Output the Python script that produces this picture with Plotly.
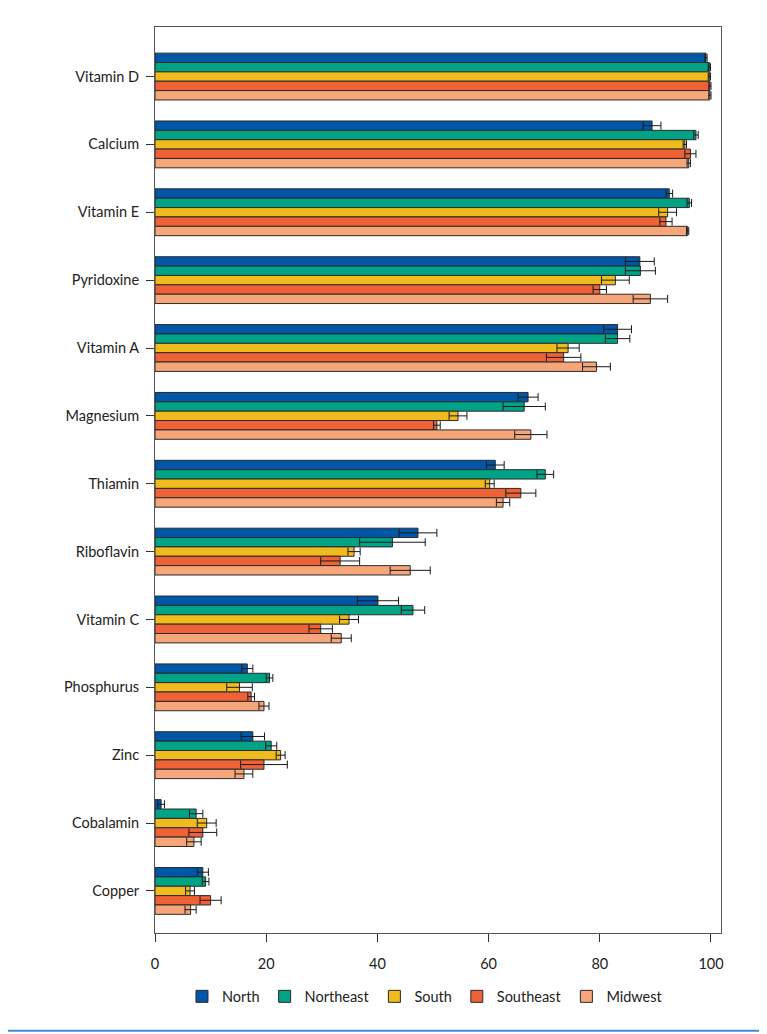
import plotly.graph_objects as go

categories = ["Vitamin D", "Calcium", "Vitamin E", "Pyridoxine", "Vitamin A",
              "Magnesium", "Thiamin", "Riboflavin", "Vitamin C", "Phosphurus",
              "Zinc", "Cobalamin", "Copper"]

north = [99.1, 89.4, 92.5, 87.2, 83.2, 67.1, 61.2, 47.3, 40.1, 16.6, 17.6, 1.1, 8.6]
north_err = [0.2, 1.6, 0.6, 2.6, 2.5, 1.8, 1.6, 3.4, 3.7, 1.0, 2.1, 0.6, 1.0]
northeast = [99.7, 97.3, 96.1, 87.3, 83.2, 66.4, 70.2, 42.7, 46.4, 20.6, 20.9, 7.4, 9.1]
northeast_err = [0.2, 0.4, 0.4, 2.7, 2.2, 3.8, 1.5, 5.9, 2.1, 0.6, 1.0, 1.2, 0.6]
south = [99.7, 95.3, 92.2, 82.8, 74.3, 54.5, 60.2, 35.8, 34.9, 15.2, 22.6, 9.3, 6.3]
south_err = [0.2, 0.3, 1.6, 2.5, 2.0, 1.6, 0.8, 1.1, 1.7, 2.3, 0.8, 1.7, 0.8]
southeast = [99.8, 96.3, 91.9, 80.0, 73.5, 50.7, 65.8, 33.3, 29.8, 17.3, 19.6, 8.6, 10.0]
southeast_err = [0.2, 1.0, 1.1, 1.2, 3.1, 0.6, 2.7, 3.5, 2.1, 0.6, 4.2, 2.5, 1.9]
midwest = [99.8, 96.0, 95.8, 89.1, 79.4, 67.6, 62.6, 45.9, 33.5, 19.6, 16.0, 7.0, 6.4]
midwest_err = [0.2, 0.3, 0.2, 3.1, 2.5, 2.9, 1.2, 3.6, 1.8, 0.9, 1.6, 1.3, 1.0]

regions = ["North", "Northeast", "South", "Southeast", "Midwest"]
colors = ["#0057a8", "#00a386", "#f0bb1e", "#ef6136", "#f7a67a"]
values = [north, northeast, south, southeast, midwest]
errors = [north_err, northeast_err, south_err, southeast_err, midwest_err]

fig = go.Figure()
for name, col, vals, errs in zip(regions, colors, values, errors):
    fig.add_trace(go.Bar(
        x=vals,
        y=categories,
        orientation="h",
        name=name,
        marker=dict(color=col, line=dict(color="#2a2a2a", width=1)),
        error_x=dict(type="data", array=errs, symmetric=True,
                     color="#1a1a1a", thickness=1, width=4),
    ))

# page body adds an 8px offset, so margins are shifted to compensate
fig.update_layout(
    width=767,
    height=1034,
    barmode="group",
    bargap=0.31,
    bargroupgap=0,
    plot_bgcolor="white",
    paper_bgcolor="white",
    font=dict(family="Lato, 'Open Sans', sans-serif", size=14.5, color="#222222"),
    margin=dict(l=147, r=54, t=19, b=109),
    legend=dict(orientation="h", x=0.477, xanchor="center", y=-0.07,
                yanchor="middle", font=dict(size=14.5)),
    xaxis=dict(range=[0, 101.8], tickvals=[0, 20, 40, 60, 80, 100],
               showgrid=False, zeroline=False, showline=True, mirror=True,
               linecolor="#555555", linewidth=1, ticks="outside",
               ticklen=8, tickcolor="#333333", ticklabelstandoff=10),
    yaxis=dict(range=[12.62, -0.73], showgrid=False, zeroline=False,
               showline=True, mirror=True, linecolor="#555555", linewidth=1,
               ticks="outside", ticklen=8, tickcolor="#333333",
               ticklabelstandoff=4),
)

# blue rule under the legend
fig.add_shape(type="line", xref="paper", yref="paper",
              x0=-0.3, x1=1.075, y0=-0.108, y1=-0.108,
              line=dict(color="#3d8ed6", width=2))

fig.write_html("out.html")
